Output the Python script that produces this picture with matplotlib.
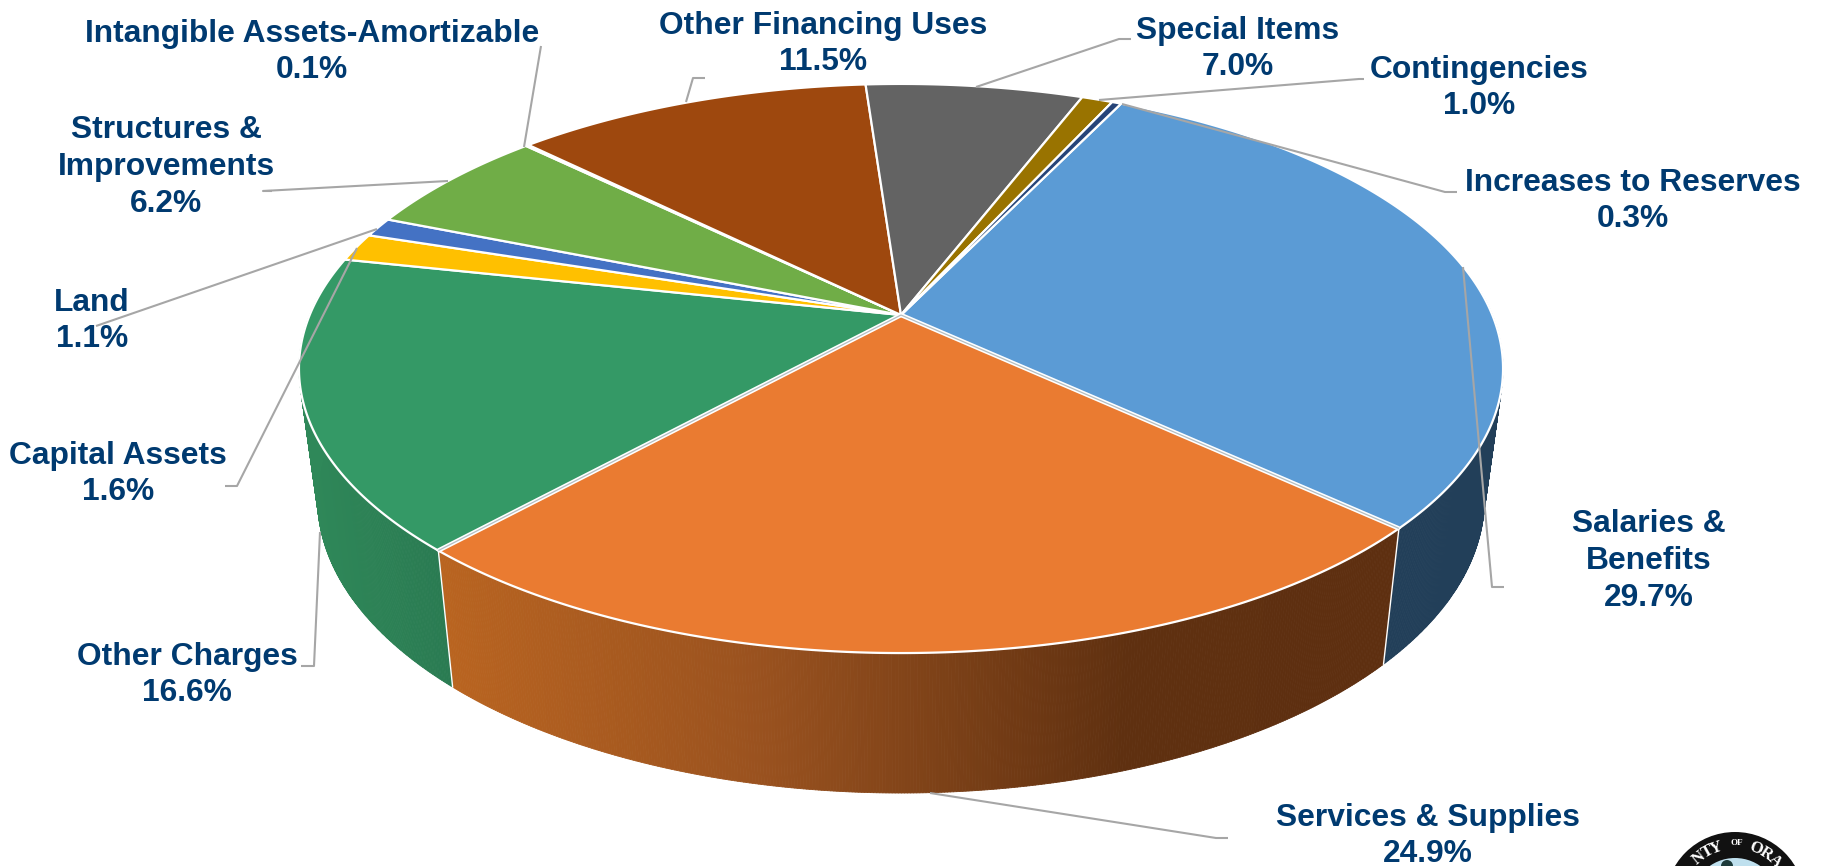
import numpy as np
import matplotlib
matplotlib.use("Agg")
import matplotlib.pyplot as plt
from matplotlib.collections import PolyCollection
from matplotlib.colors import LinearSegmentedColormap
from matplotlib.patches import Circle, Polygon

plt.rcParams['font.family'] = ['Liberation Sans', 'DejaVu Sans']

# budget shares, clockwise from the first slice
categories = ["Salaries &\nBenefits", "Services & Supplies", "Other Charges", "Capital Assets",
              "Land", "Structures &\nImprovements", "Intangible Assets-Amortizable",
              "Other Financing Uses", "Special Items", "Contingencies", "Increases to Reserves"]
shares = [29.7, 24.9, 16.6, 1.6, 1.1, 6.2, 0.1, 11.5, 7.0, 1.0, 0.3]
colors = ["#5B9BD5", "#EA7B31", "#349966", "#FFC000", "#4472C4", "#70AD47",
          "#255E91", "#9E480E", "#636363", "#997300", "#264478"]
label_pos = [(1649, 561), (1428, 836), (187, 675), (118, 474), (92, 321), (166, 167),
             (312, 52), (823, 44), (1238, 49), (1479, 88), (1633, 201)]
# leader polylines, label end first
leaders = [[(1504, 587), (1492, 587), (1463, 267)],
           [(1228, 838), (1216, 838), (930, 793)],
           [(301, 666), (314, 666), (320, 532)],
           [(225, 486), (237, 486), (357, 248)],
           [(96, 326), (377, 229)],
           [(272, 191), (263, 191), (448, 181)],
           [(541, 46), (524, 147)],
           [(705, 78), (693, 78), (686, 102)],
           [(1131, 39), (1119, 39), (976, 87)],
           [(1364, 79), (1359, 79), (1099, 100)],
           [(1457, 192), (1445, 192), (1122, 104)]]
seal_letters = ["N", "T", "Y", "O", "R", "A"]
seal_angles = [-39, -29, -19, 21, 33, 44]

first_angle = 25.8
persp = 0.188
center_x = 901
top_rim = (591.3, 274.5, 315)
low_rim = (573.0, 283.8, 443.5)
navy = "#003A70"
leader_gray = "#A6A6A6"


def rim(angles, params):
    # project points of a circle with a simple perspective divide
    ax_x, ax_y, cy = params
    t = np.radians(angles)
    u, v = np.sin(t), -np.cos(t)
    w = 1 - persp * v
    return np.column_stack([center_x + ax_x * u / w, cy + ax_y * v / w])


def draw_wall(a0, a1, cmap):
    # thin quads between the two rims, shaded left to right
    ang = np.arange(a0, a1 + 0.25, 0.25)
    ang[-1] = a1
    top, low = rim(ang, top_rim), rim(ang, low_rim)
    quads = [[top[i], top[i + 1], low[i + 1], low[i]] for i in range(len(ang) - 1)]
    mids = np.array([np.mean(q, axis=0)[0] for q in quads])
    shade = cmap((mids - mids.min()) / (mids.max() - mids.min()))
    ax.add_collection(PolyCollection(quads, facecolors=shade, edgecolors=shade, linewidths=0.6, zorder=2))


fig = plt.figure(figsize=(18.21, 8.66), dpi=100)
ax = fig.add_axes([0, 0, 1, 1])
ax.set_xlim(0, 1821)
ax.set_ylim(866, 0)
ax.axis("off")

edges = first_angle + np.cumsum([0] + [s * 3.6 for s in shares])

# side walls of the three front slices
wall_maps = [
    LinearSegmentedColormap.from_list("w0", ["#223F59", "#223F59"]),
    LinearSegmentedColormap.from_list("w1", [(0, "#B96420"), (0.33, "#9A521F"), (0.72, "#5F3010"), (1, "#5E2F10")]),
    LinearSegmentedColormap.from_list("w2", [(0, "#2F8859"), (1, "#2A7B52")]),
]
wall_spans = [(85, edges[1]), (edges[1], edges[2]), (edges[2], 275)]
for (a0, a1), cmap in zip(wall_spans, wall_maps):
    draw_wall(a0, a1, cmap)
# white seams where the front walls meet
for a in edges[1:3]:
    seam = np.vstack([rim(np.array([a]), top_rim), rim(np.array([a]), low_rim)])
    ax.plot(seam[:, 0], seam[:, 1], color="white", linewidth=1.0, zorder=2.5)

# top face
apex = np.array([[center_x, top_rim[2]]])
for i, c in enumerate(colors):
    ang = np.linspace(edges[i], edges[i + 1], max(4, int(shares[i] * 12)))
    pts = np.vstack([apex, rim(ang, top_rim)])
    ax.add_patch(Polygon(pts, closed=True, facecolor=c, edgecolor="white", linewidth=1.6, zorder=3))

# the big front slice sits slightly apart, so its sides show a double line
for a in edges[1:3]:
    spoke = np.vstack([apex, rim(np.array([a]), top_rim)])
    ax.plot(spoke[:, 0], spoke[:, 1], color="white", linewidth=3.2, zorder=3.2, solid_capstyle="butt")
    ax.plot(spoke[:, 0], spoke[:, 1], color="#B4BEC2", linewidth=0.9, zorder=3.3, solid_capstyle="butt")

for line in leaders:
    xs, ys = zip(*line)
    ax.plot(xs, ys, color=leader_gray, linewidth=1.5, zorder=4, solid_capstyle="butt")

for name, share, (x, y) in zip(categories, shares, label_pos):
    ax.text(x, y, f"{name}\n{share:.1f}%", ha="center", va="center", fontsize=22.9,
            fontweight="bold", color=navy, linespacing=1.3, zorder=5)

# county seal, cut by the lower edge
seal_x, seal_y = 1735, 902
ax.add_patch(Circle((seal_x, seal_y), 70, facecolor="#111111", edgecolor="none", zorder=5))
ax.add_patch(Circle((seal_x, seal_y), 44, facecolor="#BFE0EE", edgecolor="none", zorder=5.1))
ax.add_patch(Circle((seal_x - 8, seal_y - 36), 6, facecolor="#1C3A3A", edgecolor="none", zorder=5.2))
for ch, deg in zip(seal_letters, seal_angles):
    t = np.radians(deg)
    ax.text(seal_x + 57 * np.sin(t), seal_y - 57 * np.cos(t), ch, rotation=-deg, rotation_mode="anchor",
            ha="center", va="center", fontsize=12, fontweight="bold", family="Liberation Serif",
            color="white", zorder=5.3)
ax.text(seal_x + 2, seal_y - 59, "OF", ha="center", va="center", fontsize=6.5, fontweight="bold",
        family="Liberation Serif", color="white", zorder=5.3)

fig.savefig("out.png", dpi=100, facecolor="white")
